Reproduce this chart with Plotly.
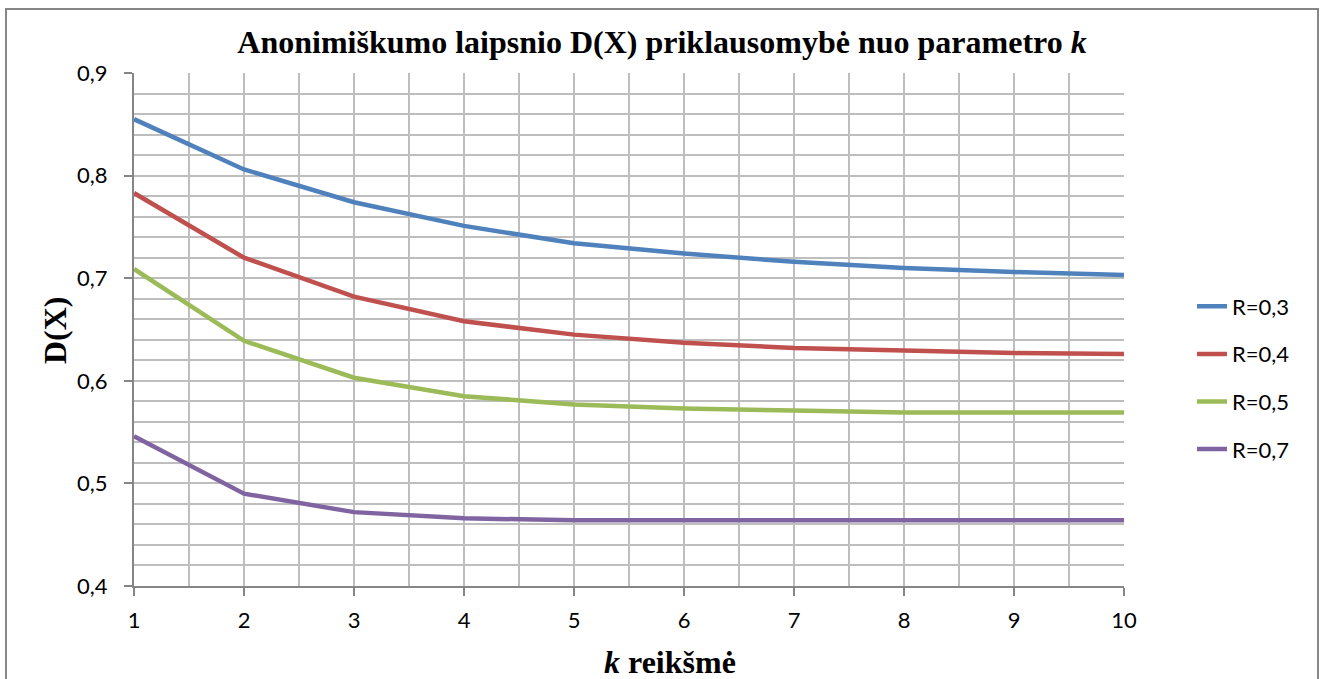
import plotly.graph_objects as go

k_values = [1, 2, 3, 4, 5, 6, 7, 8, 9, 10]
r03 = [0.855, 0.806, 0.774, 0.751, 0.734, 0.724, 0.716, 0.710, 0.706, 0.703]
r04 = [0.783, 0.720, 0.682, 0.658, 0.645, 0.637, 0.632, 0.629, 0.627, 0.626]
r05 = [0.709, 0.639, 0.603, 0.585, 0.577, 0.573, 0.571, 0.569, 0.569, 0.569]
r07 = [0.546, 0.490, 0.472, 0.466, 0.464, 0.464, 0.464, 0.464, 0.464, 0.464]
series_names = ["R=0,3", "R=0,4", "R=0,5", "R=0,7"]
series_colors = ["#4F81BD", "#C0504D", "#9BBB59", "#8064A2"]
y_ticks = [0.4, 0.5, 0.6, 0.7, 0.8, 0.9]
y_tick_labels = ["0,4", "0,5", "0,6", "0,7", "0,8", "0,9"]

fig = go.Figure()
for name, vals, col in zip(series_names, [r03, r04, r05, r07], series_colors):
    fig.add_trace(go.Scatter(x=k_values, y=vals, mode="lines", name=name,
                             legendgroup=name,
                             line=dict(color=col, width=4.5)))

grid_col = "#BEBEBE"
axis_col = "#868686"
tick_font = dict(family="Lato, 'Open Sans', sans-serif", size=22, color="#000000")
title_font = dict(family="Liberation Serif", size=32, color="black", weight="bold")

PW, PH = 990, 513  # plot area size in px

fig.update_layout(
    width=1324, height=679,
    margin=dict(l=134, r=200, t=73, b=93),
    paper_bgcolor="white", plot_bgcolor="white",
    title=dict(text="Anonimiškumo laipsnio D(X) priklausomybė nuo parametro <i>k</i>",
               font=title_font,
               x=0.5, xanchor="center", y=1 - 42/679, yanchor="middle"),
    legend=dict(x=(1192 - 134) / PW, y=(586 - 378) / PH, xanchor="left", yanchor="middle",
                font=tick_font, tracegroupgap=16, bgcolor="rgba(0,0,0,0)"),
    xaxis=dict(range=[1, 10], tickmode="array", tickvals=k_values,
               ticktext=[str(v) for v in k_values], tickfont=tick_font,
               ticklabelstandoff=6, automargin=False,
               showgrid=True, gridcolor=grid_col, gridwidth=1.5,
               minor=dict(dtick=0.5, showgrid=True, gridcolor=grid_col, gridwidth=1.5),
               showline=True, linecolor=axis_col, linewidth=2,
               ticks="outside", ticklen=8, tickcolor=axis_col, tickwidth=2,
               zeroline=False),
    yaxis=dict(range=[0.4, 0.9], tickmode="array", tickvals=y_ticks, ticktext=y_tick_labels,
               tickfont=tick_font, ticklabelstandoff=12, automargin=False,
               showgrid=True, gridcolor=grid_col, gridwidth=1.5,
               minor=dict(dtick=0.02, showgrid=True, gridcolor=grid_col, gridwidth=1.5),
               showline=True, linecolor=axis_col, linewidth=2,
               ticks="outside", ticklen=8, tickcolor=axis_col, tickwidth=2,
               zeroline=False),
    annotations=[
        dict(text="<i>k</i> reikšmė", xref="paper", yref="paper",
             x=(670 - 134) / PW, y=(586 - 662) / PH, xanchor="center", yanchor="middle",
             showarrow=False, font=title_font),
        dict(text="D(X)", xref="paper", yref="paper", textangle=-90,
             x=(55 - 134) / PW, y=(586 - 330) / PH, xanchor="center", yanchor="middle",
             showarrow=False, font=title_font),
    ],
)

# outer chart frame
fig.add_shape(type="rect", xref="paper", yref="paper",
              x0=(6 - 134) / PW, x1=(1318 - 134) / PW,
              y0=-0.3, y1=(586 - 9) / PH,
              line=dict(color="#868686", width=2), fillcolor="rgba(0,0,0,0)", layer="below")

fig.write_html("out.html")
